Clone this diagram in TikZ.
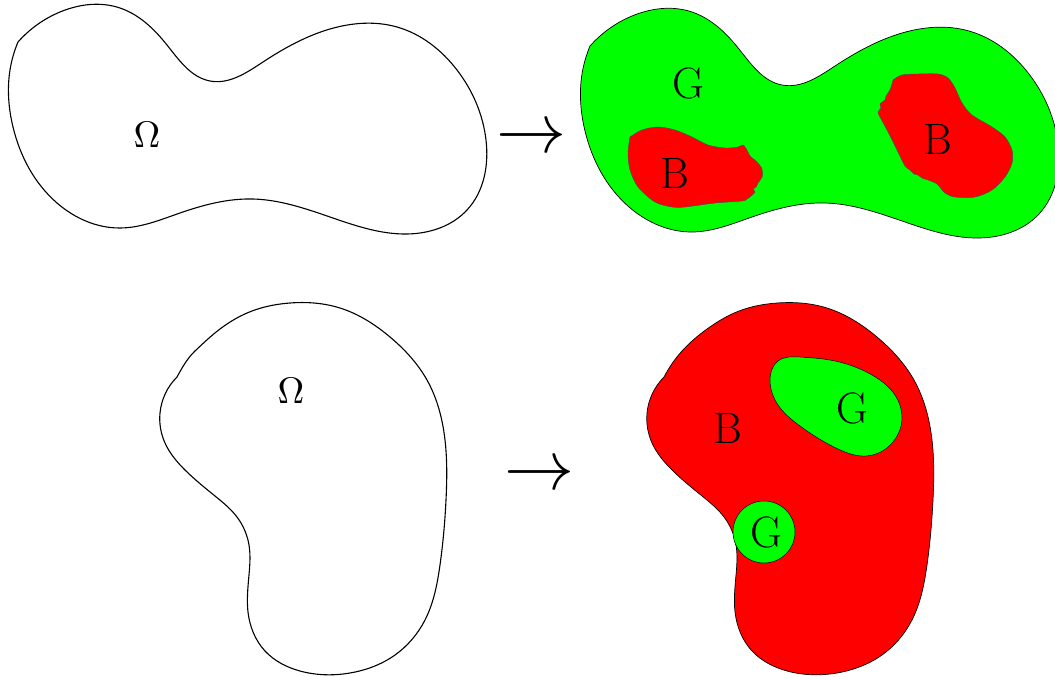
\documentclass[tikz,border=0pt]{standalone}
\usepackage{tikz}
\usetikzlibrary{hobby}

\definecolor{goodgreen}{RGB}{0,255,0}
\definecolor{badred}{RGB}{255,0,0}

\tikzset{
  outline/.style={draw=black, line width=1.1pt, line join=round},
  region/.style={draw=black, line width=0.7pt, line join=round},
  subregion/.style={draw=black!70, line width=0.45pt, line join=round},
  letter/.style={inner sep=0pt, font=\fontsize{44}{44}\selectfont},
  omegalbl/.style={inner sep=0pt},
  maparrow/.style={inner sep=0pt, anchor=base},
}

% two-lobed domain, traced clockwise from its small corner at the upper left
\newcommand\peanutpath{(18,42) .. (60,12) .. (120,8) .. (167,45) .. (210,81)
  .. (263,62) .. (330,29) .. (397,27) .. (457,70) .. (486,140) .. (467,210)
  .. (407,234) .. (330,217) .. (253,199) .. (180,213) .. (120,228)
  .. (57,203) .. (13,127) .. (10,70) .. (18,42) -- cycle}

% kidney-shaped domain, traced clockwise from its small corner at the upper left
\newcommand\kidneypath{(177,377) .. (195,351) .. (220,329) .. (252,311)
  .. (290,303) .. (340,308) .. (390,337) .. (427,380) .. (445,440)
  .. (446,500) .. (440,565) .. (425,620) .. (395,655) .. (350,673)
  .. (300,671) .. (265,651) .. (248,612) .. (249,575) .. (249,545)
  .. (237,517) .. (215,496) .. (185,470) .. (165,443) .. (160,413)
  .. (177,377) -- cycle}

\begin{document}
\begin{tikzpicture}[x=1pt, y=-1pt, use Hobby shortcut]
  \useasboundingbox (0,0) rectangle (1055,677);

  % ---- top row -------------------------------------------------------
  \draw[outline] \peanutpath;
  \node[omegalbl] (om1) at (147,134.5) {\scalebox{3.7}{$\Omega$}};
  \node[maparrow] (ar1) at (531.5,152.5) {\scalebox{7}{$\rightarrow$}};

  \begin{scope}
    \clip (0,0) rectangle (1055,677);
    \begin{scope}[shift={(572,4)}]
      \fill[goodgreen] \peanutpath;
      \draw[region] \peanutpath;
    \end{scope}
  \end{scope}

  % bad set, left lobe
  \filldraw[fill=badred, subregion] plot[smooth, tension=0.5] coordinates {
    (630,137) (642,130) (658,127) (675,130) (692,137) (708,145) (725,148)
    (738,147) (743,145) (747,150) (750,156) (757,162) (762,169) (762,177)
    (758,183) (756,187) (753,189) (755,192) (751,196) (747,199) (742,201)
    (715,203) (685,207) (672,207) (655,202) (638,187) (630,170) (628,153)
    (630,137)} -- cycle;

  % bad set, right lobe
  \filldraw[fill=badred, subregion] plot[smooth, tension=0.5] coordinates {
    (893,80) (902,75) (918,74) (938,74) (948,78) (955,88) (962,103)
    (972,115) (992,127) (1005,137) (1012,150) (1012,163) (1005,177)
    (992,190) (975,197) (955,197) (945,193) (937,184) (928,180) (922,178)
    (918,175) (914,174) (910,170) (905,166) (897,150) (887,130) (880,117)
    (878,112) (881,108) (880,104) (885,100) (886,96) (890,90) (893,80)} -- cycle;

  \node[letter] (g1) at (688,83) {G};
  \node[letter] (b1) at (675,173) {B};
  \node[letter] (b2) at (938,139) {B};

  % ---- bottom row ----------------------------------------------------
  \draw[outline] \kidneypath;
  \node[omegalbl] (om2) at (291,391) {\scalebox{3.7}{$\Omega$}};
  \node[maparrow] (ar2) at (539,489.5) {\scalebox{7}{$\rightarrow$}};

  \begin{scope}[shift={(487,0)}]
    \fill[badred] \kidneypath;
    \draw[region] \kidneypath;
  \end{scope}

  % good sets inside the kidney
  \filldraw[fill=goodgreen, region, line width=0.5pt, closed=true]
    (778,361) .. (800,357) .. (835,361) .. (872,375) .. (895,395)
    .. (902,417) .. (893,442) .. (866,456) .. (838,449) .. (800,426)
    .. (778,405) .. (770,381);
  \filldraw[fill=goodgreen, region, line width=0.5pt] (764,532) circle[radius=31];

  \node[letter] (b3) at (728,428) {B};
  \node[letter] (g2) at (852,408) {G};
  \node[letter] (g3) at (766,532) {G};
\end{tikzpicture}
\end{document}
